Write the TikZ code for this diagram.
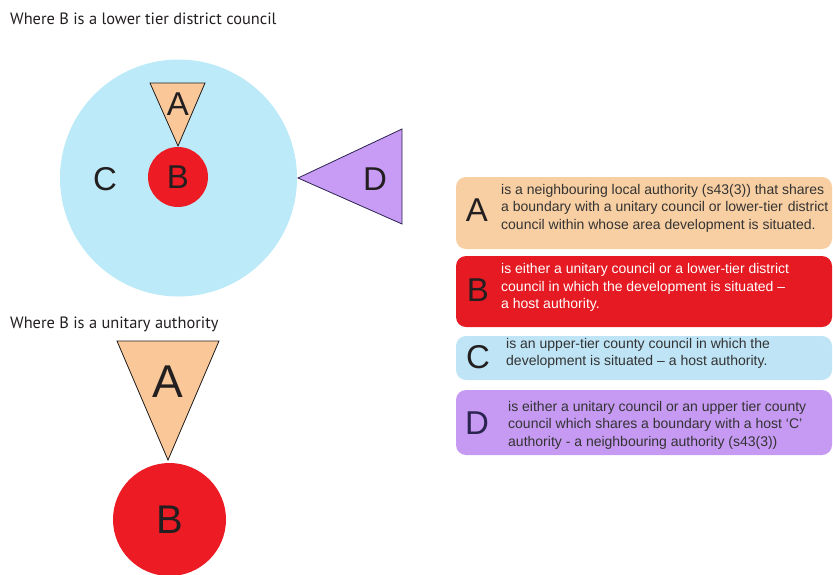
\documentclass[tikz,border=0pt]{standalone}
\usepackage{fontspec}
\setmainfont{Liberation Sans}
\newfontfamily\titlefont{PT Sans}
\usetikzlibrary{positioning}
\definecolor{peach}{HTML}{FAC898}
\definecolor{peachbox}{HTML}{F8CFA2}
\definecolor{skyc}{HTML}{BDEAF8}
\definecolor{skybox}{HTML}{BEE4F5}
\definecolor{redc}{HTML}{ED1C24}
\definecolor{redbox}{HTML}{E51A22}
\definecolor{purp}{HTML}{C89CF4}
\definecolor{purpbox}{HTML}{C69AF2}
\definecolor{ink}{HTML}{231F20}
\definecolor{txt}{HTML}{333333}
\definecolor{navy}{HTML}{2B2350}
\tikzset{
  titletext/.style={anchor=west, inner sep=0pt, font=\titlefont\fontsize{16.4}{19}\selectfont, text=ink},
  bigletter/.style={inner sep=0pt, font=\fontsize{33}{36}\selectfont, text=ink},
  tri/.style={draw=ink, line width=0.8pt, line join=miter},
  infobox/.style={rounded corners=10pt},
  boxletter/.style={inner sep=0pt, font=\fontsize{33}{35}\selectfont, text=ink},
  boxtext/.style={anchor=west, inner sep=0pt, align=left, text=txt, font=\fontsize{14}{17.5}\selectfont},
}
\begin{document}
\begin{tikzpicture}[x=1pt,y=-1pt]
\useasboundingbox (0,0) rectangle (833,574);
\clip (0,0) rectangle (833,574);

% titles
\node[titletext] (t1) at (10,19) {Where B is a lower tier district council};
\node[titletext] (t2) at (10,324) {Where B is a unitary authority};

% upper diagram
\node[circle, fill=skyc, minimum size=237pt, inner sep=0pt] (Cc) at (178.5,178) {};
\node[circle, fill=redc, minimum size=60pt, inner sep=0pt] (Bc) at (178,177) {};
\node[bigletter] (Bl) at (Bc) {B};
\node[bigletter] (Cl) at (105,179) {C};
\filldraw[tri, fill=peach] (150,83) -- (205,83) -- (178,146) -- cycle;
\node[bigletter] (Al) at (178,104) {A};
\filldraw[tri, fill=purp, draw=navy] (298,178) -- (402,129) -- (402,224) -- cycle;
\node[bigletter] (Dl) at (375,179) {D};

% lower diagram
\node[circle, fill=redc, minimum size=113pt, inner sep=0pt] (B2) at (169.5,519.5) {};
\node[inner sep=0pt, font=\fontsize{40}{44}\selectfont, text=ink] (B2l) at (B2) {B};
\filldraw[tri, fill=peach] (117,341) -- (219,341) -- (168,460) -- cycle;
\node[inner sep=0pt, font=\fontsize{46}{50}\selectfont, text=ink] (A2l) at (168,382) {A};

% legend boxes
\fill[infobox, fill=peachbox] (456,177) rectangle (832,249);
\fill[infobox, fill=redbox] (456,256) rectangle (832,327);
\fill[infobox, fill=skybox] (456,336) rectangle (832,380);
\fill[infobox, fill=purpbox] (456,390) rectangle (832,455);

\node[boxletter] (LA) at (477,210) {A};
\node[boxletter, text=ink] (LB) at (478,290) {B};
\node[boxletter] (LC) at (478,357) {C};
\node[boxletter, text=navy] (LD) at (477,423) {D};

\node[boxtext] (TA) at (501,208) {is a neighbouring local authority (s43(3)) that shares\\a boundary with a unitary council or lower-tier\hspace{5pt}district\\council within whose area development is situated.};
\node[boxtext, text=white] (TB) at (501,287.5) {is either a unitary council or a lower-tier district\\council in which the development is situated --\\a host authority.};
\node[boxtext] (TC) at (506,353.5) {is an upper-tier county council in which the\\development is situated -- a host authority.};
\node[boxtext] (TD) at (508,425) {is either a unitary council or an upper tier county\\council which shares a boundary with a host `C'\\authority - a neighbouring authority (s43(3))};
\end{tikzpicture}
\end{document}
